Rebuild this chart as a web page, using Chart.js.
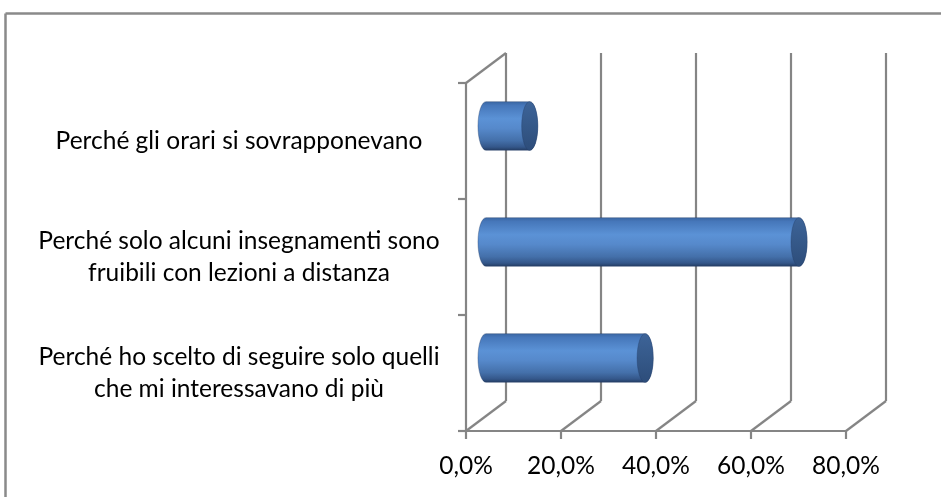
<!DOCTYPE html>
<html>
<head>
<meta charset="utf-8">
<script src="https://cdn.jsdelivr.net/npm/chart.js@4"></script>
<style>
    html, body { margin: 0; padding: 0; background: #fff; }
    #wrap { width: 941px; height: 497px; }
</style>
</head>
<body>
<div id="wrap"><canvas id="motivi-chart"></canvas></div>
<script>
const categories = [
    ['Perché gli orari si sovrapponevano'],
    ['Perché solo alcuni insegnamenti sono', 'fruibili con lezioni a distanza'],
    ['Perché ho scelto di seguire solo quelli', 'che mi interessavano di più']
]
const percentages = [9.2, 65.9, 33.5]
const tickValues = [0, 20, 40, 60, 80]

const FONT = { family: 'Lato', size: 24.5, lineHeight: 1.3 }
const LABEL_CENTER = 239
// oblique offset of the back wall
const DX = 40
const DY = -30

// padding that puts the centred category labels around LABEL_CENTER
function labelPadding(axisRight) {
    const c = document.createElement('canvas').getContext('2d')
    c.font = `${FONT.size}px ${FONT.family}`
    let widest = 0
    categories.flat().forEach(t => { widest = Math.max(widest, c.measureText(t).width) })
    return Math.max(0, axisRight - LABEL_CENTER - widest / 2)
}

function line(ctx, x1, y1, x2, y2) {
    ctx.beginPath()
    ctx.moveTo(x1, y1)
    ctx.lineTo(x2, y2)
    ctx.stroke()
}

const frame3d = {
    id: 'frame3d',
    beforeDraw(chart) {
        const { ctx, width, height } = chart
        ctx.save()
        ctx.fillStyle = '#fff'
        ctx.fillRect(0, 0, width, height)
        ctx.strokeStyle = '#8a8a8a'
        ctx.lineWidth = 2.5
        line(ctx, 5.5, 13.5, width + 5, 13.5)
        line(ctx, 5.5, 13.5, 5.5, height + 5)
        ctx.restore()
    },
    beforeDatasetsDraw(chart) {
        const { ctx, chartArea: a, scales: { x, y } } = chart
        ctx.save()
        ctx.strokeStyle = '#858585'
        ctx.lineWidth = 2.2
        tickValues.forEach(v => {
            const px = x.getPixelForValue(v)
            line(ctx, px, a.bottom, px + DX, a.bottom + DY)
            line(ctx, px + DX, a.bottom + DY, px + DX, a.top + DY)
            line(ctx, px, a.bottom, px, a.bottom + 8)
        })
        line(ctx, a.left - 8, a.bottom, x.getPixelForValue(80), a.bottom)
        line(ctx, a.left, a.top, a.left, a.bottom)
        line(ctx, a.left, a.top, a.left + DX, a.top + DY)
        for (let i = 0; i <= categories.length; i++) {
            const py = y.getPixelForValue(i - 0.5)
            line(ctx, a.left - 8, py, a.left, py)
        }
        ctx.restore()
    },
    afterDatasetsDraw(chart) {
        const { ctx } = chart
        const meta = chart.getDatasetMeta(0)
        ctx.save()
        meta.data.forEach(bar => {
            const { x: end, y: cy, base, height } = bar.getProps(['x', 'y', 'base', 'height'], true)
            drawCylinder(ctx, base + DX / 2, end + DX / 2, cy + DY / 2, height / 2)
        })
        ctx.restore()
    }
}

function drawCylinder(ctx, x0, x1, cy, ry) {
    const rx = ry * 0.33
    const body = ctx.createLinearGradient(0, cy - ry, 0, cy + ry)
    body.addColorStop(0, '#3b67a3')
    body.addColorStop(0.08, '#4677ba')
    body.addColorStop(0.35, '#5b92d6')
    body.addColorStop(0.55, '#5689cb')
    body.addColorStop(0.8, '#4470aa')
    body.addColorStop(0.93, '#34578a')
    body.addColorStop(1, '#243d63')

    ctx.beginPath()
    ctx.moveTo(x0, cy - ry)
    ctx.lineTo(x1, cy - ry)
    ctx.ellipse(x1, cy, rx, ry, 0, -Math.PI / 2, Math.PI / 2)
    ctx.lineTo(x0, cy + ry)
    ctx.ellipse(x0, cy, rx, ry, 0, Math.PI / 2, Math.PI * 1.5)
    ctx.closePath()
    ctx.fillStyle = body
    ctx.fill()
    ctx.strokeStyle = 'rgba(35, 60, 100, 0.45)'
    ctx.lineWidth = 0.8
    ctx.stroke()

    const cap = ctx.createLinearGradient(0, cy - ry, 0, cy + ry)
    cap.addColorStop(0, '#3d6498')
    cap.addColorStop(1, '#2d4d7a')
    ctx.beginPath()
    ctx.ellipse(x1, cy, rx, ry, 0, 0, Math.PI * 2)
    ctx.fillStyle = cap
    ctx.fill()
    ctx.stroke()
}

document.addEventListener('DOMContentLoaded', () => {
    const canvas = document.getElementById('motivi-chart')

    new Chart(canvas, {
        type: 'bar',
        data: {
            labels: categories,
            datasets: [{
                data: percentages,
                backgroundColor: 'rgba(0, 0, 0, 0)',
                borderWidth: 0,
                barPercentage: 0.42,
                categoryPercentage: 1
            }]
        },
        options: {
            indexAxis: 'y',
            responsive: true,
            maintainAspectRatio: false,
            animation: false,
            devicePixelRatio: 1,
            layout: { padding: { left: 20, top: 83, right: 95, bottom: 0 } },
            plugins: { legend: { display: false }, tooltip: { enabled: false } },
            scales: {
                x: {
                    type: 'linear',
                    min: 0,
                    max: 80,
                    afterBuildTicks: s => { s.ticks = tickValues.map(v => ({ value: v })) },
                    afterFit: s => { s.height = 66 },
                    ticks: {
                        color: '#000',
                        font: FONT,
                        padding: 19,
                        callback: v => v.toFixed(1).replace('.', ',') + '%'
                    },
                    grid: { display: false, drawTicks: false },
                    border: { display: false }
                },
                y: {
                    type: 'category',
                    offset: true,
                    afterFit: s => { s.width = 446 },
                    ticks: {
                        color: '#000',
                        font: FONT,
                        crossAlign: 'center',
                        padding: labelPadding(466)
                    },
                    grid: { display: false, drawTicks: false },
                    border: { display: false }
                }
            }
        },
        plugins: [frame3d]
    })
})
</script>
</body>
</html>
